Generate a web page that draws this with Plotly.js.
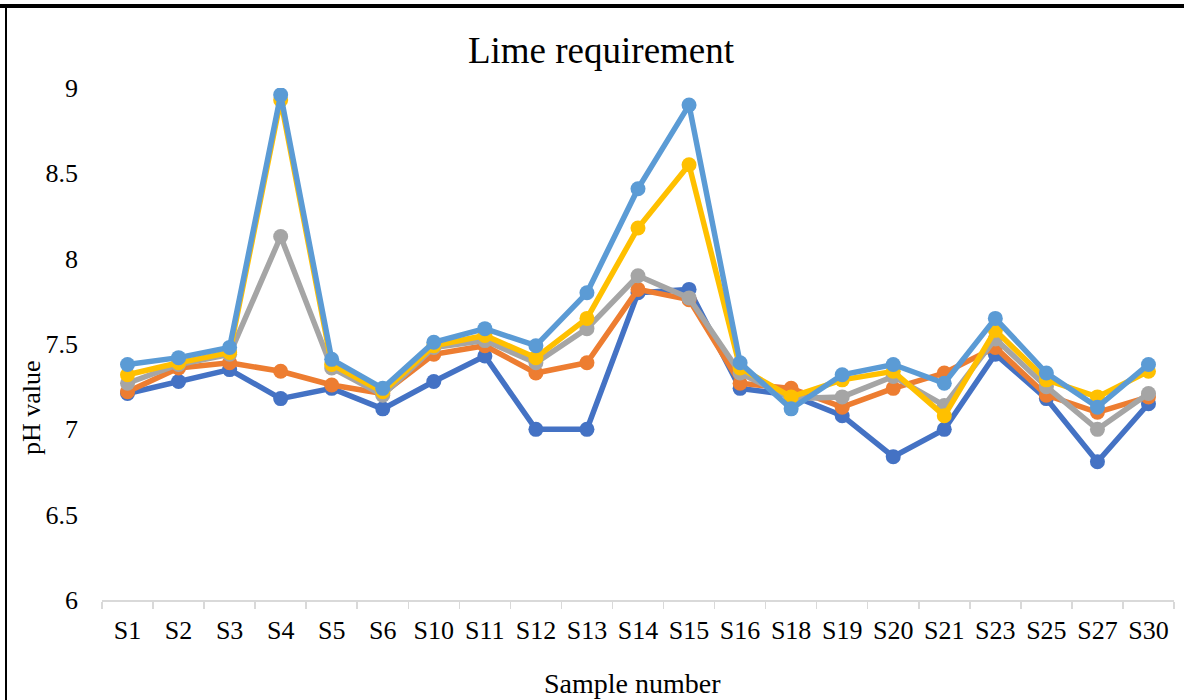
<!DOCTYPE html>
<html>
<head>
<meta charset="utf-8">
<script src="https://cdn.plot.ly/plotly-3.0.1.min.js"></script>
<style>
  html, body { margin: 0; padding: 0; background: #fff; }
  #wrap { position: relative; width: 1184px; height: 700px; overflow: hidden; }
  #chart { position: absolute; left: 0; top: 0; width: 1184px; height: 700px; }
  .bar-top { position: absolute; left: 0; top: 4px; width: 1184px; height: 4px; background: #000; }
  .bar-left { position: absolute; left: 5px; top: 4px; width: 2px; height: 700px; background: #000; }
</style>
</head>
<body>
<div id="wrap">
  <div id="chart"></div>
  <div class="bar-top"></div>
  <div class="bar-left"></div>
</div>
<script>
const categories = ['S1','S2','S3','S4','S5','S6','S10','S11','S12','S13','S14','S15','S16','S18','S19','S20','S21','S23','S25','S27','S30'];

const series1 = [7.21, 7.28, 7.35, 7.18, 7.24, 7.12, 7.28, 7.43, 7.00, 7.00, 7.80, 7.82, 7.24, 7.20, 7.08, 6.84, 7.00, 7.44, 7.18, 6.81, 7.15];
const series2 = [7.22, 7.36, 7.39, 7.34, 7.26, 7.21, 7.44, 7.49, 7.33, 7.39, 7.82, 7.76, 7.27, 7.24, 7.13, 7.24, 7.33, 7.48, 7.20, 7.10, 7.19];
const series3 = [7.27, 7.38, 7.44, 8.13, 7.36, 7.20, 7.48, 7.52, 7.39, 7.59, 7.90, 7.77, 7.33, 7.18, 7.19, 7.31, 7.14, 7.53, 7.25, 7.00, 7.21];
const series4 = [7.32, 7.39, 7.45, 8.93, 7.38, 7.22, 7.49, 7.55, 7.42, 7.65, 8.18, 8.55, 7.36, 7.19, 7.29, 7.34, 7.08, 7.58, 7.29, 7.19, 7.34];
const series5 = [7.38, 7.42, 7.48, 8.96, 7.41, 7.24, 7.51, 7.59, 7.49, 7.80, 8.41, 8.90, 7.39, 7.12, 7.32, 7.38, 7.27, 7.65, 7.33, 7.13, 7.38];

const seriesNames = ['Series1', 'Series2', 'Series3', 'Series4', 'Series5'];
const seriesValues = [series1, series2, series3, series4, series5];
const seriesColors = ['#4472C4', '#ED7D31', '#A5A5A5', '#FFC000', '#5B9BD5'];

const yTicks = [6, 6.5, 7, 7.5, 8, 8.5, 9];

const FONT = 'Liberation Serif, "Times New Roman", Times, serif';

const traces = seriesValues.map((vals, i) => ({
  type: 'scatter',
  mode: 'lines+markers',
  name: seriesNames[i],
  x: categories,
  y: vals,
  line: { color: seriesColors[i], width: 5.5 },
  marker: { color: seriesColors[i], size: 15 },
  showlegend: false,
  hoverinfo: 'x+y'
}));

const layout = {
  width: 1184,
  height: 700,
  paper_bgcolor: '#ffffff',
  plot_bgcolor: '#ffffff',
  margin: { l: 102, r: 10, t: 88, b: 100, pad: 0 },
  font: { family: FONT, color: '#000000', size: 26 },
  title: {
    text: 'Lime requirement',
    font: { family: FONT, size: 37, color: '#000000' },
    xref: 'container', x: 601 / 1184, xanchor: 'center',
    yref: 'container', y: 1 - 50 / 700, yanchor: 'middle'
  },
  xaxis: {
    type: 'category',
    categoryorder: 'array',
    categoryarray: categories,
    range: [-0.5, categories.length - 0.5],
    autorange: false,
    showline: true,
    linecolor: '#d9d9d9',
    linewidth: 1.5,
    ticks: 'outside',
    tickson: 'boundaries',
    ticklen: 7,
    tickwidth: 1.5,
    tickcolor: '#d9d9d9',
    showgrid: false,
    zeroline: false,
    tickangle: 0,
    tickfont: { family: FONT, size: 26, color: '#000000' },
    ticklabelstandoff: 6,
    fixedrange: true
  },
  yaxis: {
    range: [6, 9],
    autorange: false,
    tickvals: yTicks,
    ticktext: yTicks.map(String),
    showline: false,
    showgrid: false,
    zeroline: false,
    ticks: '',
    tickfont: { family: FONT, size: 26, color: '#000000' },
    ticklabelstandoff: 23,
    fixedrange: true
  },
  annotations: [
    {
      text: 'Sample number',
      xref: 'paper', yref: 'paper',
      x: (632 - 102) / 1072, y: (600 - 683) / 512,
      xanchor: 'center', yanchor: 'middle',
      showarrow: false,
      font: { family: FONT, size: 28, color: '#000000' }
    },
    {
      text: 'pH value',
      xref: 'paper', yref: 'paper',
      x: (31 - 102) / 1072, y: (600 - 408) / 512,
      xanchor: 'center', yanchor: 'middle',
      textangle: -90,
      showarrow: false,
      font: { family: FONT, size: 26, color: '#000000' }
    }
  ]
};

Plotly.newPlot('chart', traces, layout, { displayModeBar: false, staticPlot: true });
</script>
</body>
</html>
